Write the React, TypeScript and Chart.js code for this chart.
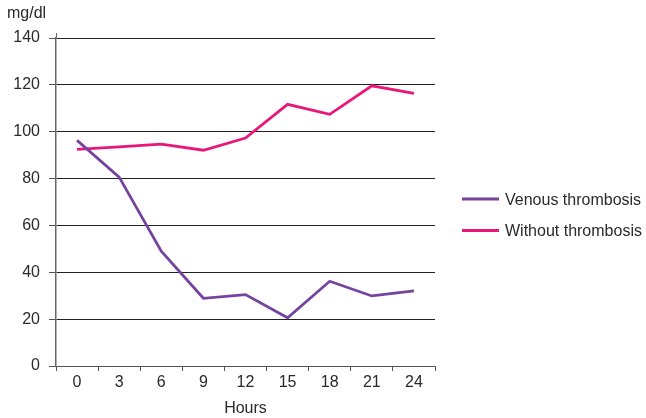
import React, { useEffect, useRef } from "react";
import { Chart, registerables } from "chart.js";

Chart.register(...registerables);

const hours = ["0", "3", "6", "9", "12", "15", "18", "21", "24"];
const venous = [96.3, 80.6, 49, 28.9, 30.5, 20.6, 36.2, 29.9, 32.1];
const without = [92.5, 93.5, 94.7, 92.1, 97.3, 111.7, 107.4, 119.6, 116.4];
const seriesNames = ["Venous thrombosis", "Without thrombosis"];
const seriesColors = ["#7542a0", "#e8177a"];
const yTitle = "mg/dl";
const xTitle = "Hours";

const FONT = "'Liberation Sans', Arial, sans-serif";
const TEXT = "#2a2a2a";
const FS = 16;

const overlay = {
  id: "overlay",
  afterDraw(chart: any) {
    const ctx = chart.ctx;
    const area = chart.chartArea;
    ctx.save();
    ctx.strokeStyle = "#666";
    ctx.lineWidth = 1;
    ctx.beginPath();
    ctx.moveTo(Math.round(area.left) + 0.5, area.top - 5);
    ctx.lineTo(Math.round(area.left) + 0.5, area.top);
    ctx.stroke();
    ctx.fillStyle = TEXT;
    ctx.font = `${FS}px ${FONT}`;
    ctx.textAlign = "left";
    ctx.textBaseline = "alphabetic";
    ctx.fillText(yTitle, 7, 18);
    const items = chart.data.datasets;
    items.forEach((ds: any, i: number) => {
      const y = 199 + i * 31.5;
      ctx.strokeStyle = ds.borderColor;
      ctx.lineWidth = 3;
      ctx.beginPath();
      ctx.moveTo(462, y);
      ctx.lineTo(499, y);
      ctx.stroke();
      ctx.fillStyle = TEXT;
      ctx.textBaseline = "middle";
      ctx.fillText(ds.label, 505, y + 1.5);
    });
    ctx.restore();
  },
};

export default function App() {
  const ref = useRef<HTMLCanvasElement | null>(null);
  useEffect(() => {
    if (!ref.current) return;
    const chart = new Chart(ref.current, {
      type: "line",
      data: {
        labels: hours,
        datasets: [
          {
            label: seriesNames[0],
            data: venous,
            borderColor: seriesColors[0],
            backgroundColor: seriesColors[0],
            borderWidth: 2.75,
            pointRadius: 0,
            tension: 0,
          },
          {
            label: seriesNames[1],
            data: without,
            borderColor: seriesColors[1],
            backgroundColor: seriesColors[1],
            borderWidth: 2.75,
            pointRadius: 0,
            tension: 0,
          },
        ],
      },
      options: {
        animation: false,
        responsive: false,
        maintainAspectRatio: false,
        layout: { padding: { left: 0, top: 38, right: 211, bottom: 0 } },
        plugins: {
          legend: { display: false },
          tooltip: { enabled: false },
        },
        scales: {
          x: {
            type: "category",
            offset: true,
            afterFit: (s: any) => {
              s.height = 52;
            },
            grid: {
              offset: true,
              drawOnChartArea: false,
              drawTicks: true,
              tickLength: 5,
              color: "#555",
              tickColor: "#555",
            },
            border: { display: true, color: "#555", width: 1 },
            ticks: {
              color: TEXT,
              font: { family: FONT, size: FS },
              padding: 2,
              maxRotation: 0,
            },
            title: {
              display: true,
              text: xTitle,
              color: TEXT,
              font: { family: FONT, size: FS },
              padding: { top: 0, bottom: 0 },
            },
          },
          y: {
            min: 0,
            max: 140,
            afterFit: (s: any) => {
              s.width = 56;
            },
            grid: {
              color: "#222",
              lineWidth: 1,
              drawTicks: true,
              tickLength: 7,
              tickColor: "#555",
            },
            border: { display: true, color: "#666", width: 1.5 },
            ticks: {
              stepSize: 20,
              color: TEXT,
              font: { family: FONT, size: FS },
              padding: 9,
            },
          },
        },
      },
      plugins: [overlay],
    });
    return () => chart.destroy();
  }, []);
  return (
    <div style={{ position: "absolute", left: 0, top: 0, width: 646, height: 418, background: "#fff" }}>
      <canvas ref={ref} width={646} height={418} style={{ display: "block" }} />
    </div>
  );
}
